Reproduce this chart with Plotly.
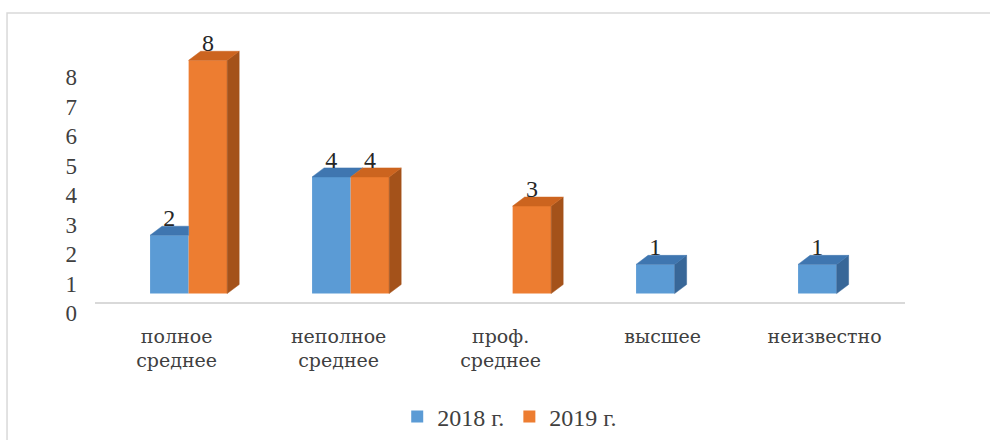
import plotly.graph_objects as go

categories = ["полное<br>среднее", "неполное<br>среднее", "проф.<br>среднее", "высшее", "неизвестно"]
series_names = ["2018 г.", "2019 г."]
values_2018 = [2, 4, None, 1, 1]
values_2019 = [8, 4, 3, None, None]
y_ticks = [0, 1, 2, 3, 4, 5, 6, 7, 8]

FONT = "Liberation Serif"
CYR_FONT = "DejaVu Serif"
BLUE, BLUE_TOP, BLUE_SIDE = "#5B9BD5", "#3F76B0", "#386798"
ORANGE, ORANGE_TOP, ORANGE_SIDE = "#ED7D31", "#CC641F", "#A4521A"

W = 0.238        # bar width (category units)
DX = 0.074       # 3D depth offset, x (category units)
DY = 0.31        # 3D depth offset, y (value units)
LABEL_DY = 0.11  # label anchor above front top (value units)

idx = list(range(len(categories)))

def faces(vals, offset, neighbour=None):
    top_x, top_y, side_x, side_y = [], [], [], []
    for i, v in enumerate(vals):
        if v is None:
            continue
        x0, x1 = i + offset, i + offset + W
        nb = neighbour[i] if neighbour is not None else None
        if nb is not None and nb > v:
            top_x += [x0, x1, x1, x0 + DX, x0, None]
            top_y += [v, v, v + DY, v + DY, v, None]
        else:
            top_x += [x0, x1, x1 + DX, x0 + DX, x0, None]
            top_y += [v, v, v + DY, v + DY, v, None]
        if nb is None:
            side_x += [x1, x1 + DX, x1 + DX, x1, x1, None]
            side_y += [0, DY, v + DY, v, 0, None]
    return top_x, top_y, side_x, side_y

fig = go.Figure()

fig.add_trace(go.Scatter(x=[None], y=[None], yaxis="y2", showlegend=False, hoverinfo="skip"))

fig.add_trace(go.Bar(x=idx, y=values_2018, width=W, offset=-W, name=series_names[0],
                     marker=dict(color=BLUE, line=dict(width=0)), hoverinfo="skip"))
fig.add_trace(go.Bar(x=idx, y=values_2019, width=W, offset=0, name=series_names[1],
                     marker=dict(color=ORANGE, line=dict(width=0)), hoverinfo="skip"))

bt_x, bt_y, bs_x, bs_y = faces(values_2018, -W, values_2019)
ot_x, ot_y, os_x, os_y = faces(values_2019, 0, None)
for xs, ys, col in [(bs_x, bs_y, BLUE_SIDE), (bt_x, bt_y, BLUE_TOP),
                    (os_x, os_y, ORANGE_SIDE), (ot_x, ot_y, ORANGE_TOP)]:
    fig.add_trace(go.Scatter(x=xs, y=ys, mode="lines", fill="toself", fillcolor=col,
                             line=dict(color=col, width=0.5), showlegend=False,
                             hoverinfo="skip"))

for vals, off in [(values_2018, -W / 2), (values_2019, W / 2)]:
    xs = [i + off for i, v in enumerate(vals) if v is not None]
    ys = [v + LABEL_DY for v in vals if v is not None]
    tx = [str(v) for v in vals if v is not None]
    fig.add_trace(go.Scatter(x=xs, y=ys, text=tx, mode="text", textposition="top center",
                             textfont=dict(family=FONT, size=24, color="#262626"),
                             showlegend=False, hoverinfo="skip", cliponaxis=False))

fig.update_layout(
    width=990, height=440,
    margin=dict(l=95, r=85, t=30, b=110, autoexpand=False),
    paper_bgcolor="white", plot_bgcolor="rgba(0,0,0,0)",
    barmode="overlay",
    font=dict(family=FONT, color="#404040"),
    xaxis=dict(range=[-0.578, 4.422], tickvals=idx, ticktext=categories,
               showgrid=False, zeroline=False, showline=True, linecolor="#d9d9d9",
               linewidth=1.5, ticks="", tickfont=dict(family=CYR_FONT, size=19, color="#404040"),
               ticklabelstandoff=16, ticklabelshift=-12, anchor="y", automargin=False),
    yaxis=dict(range=[-0.29, 9.04], domain=[0.0933, 1], visible=False, automargin=False),
    yaxis2=dict(range=[-0.576, 9.593], domain=[0, 1], anchor="free", position=0,
                tickvals=y_ticks, showgrid=False, zeroline=False, showline=False,
                ticks="", tickfont=dict(family=FONT, size=23, color="#404040"),
                ticklabelstandoff=18, automargin=False),
    legend=dict(orientation="h", x=0.512, y=-0.29, xanchor="center", yanchor="middle",
                font=dict(family=FONT, size=24, color="#404040"), itemwidth=30),
    shapes=[dict(type="rect", xref="paper", yref="paper", x0=-0.1086, x1=1.111,
                 y0=-0.383, y1=1.0567, line=dict(color="#d9d9d9", width=1.5),
                 layer="below")],
)

fig.write_html("out.html")
